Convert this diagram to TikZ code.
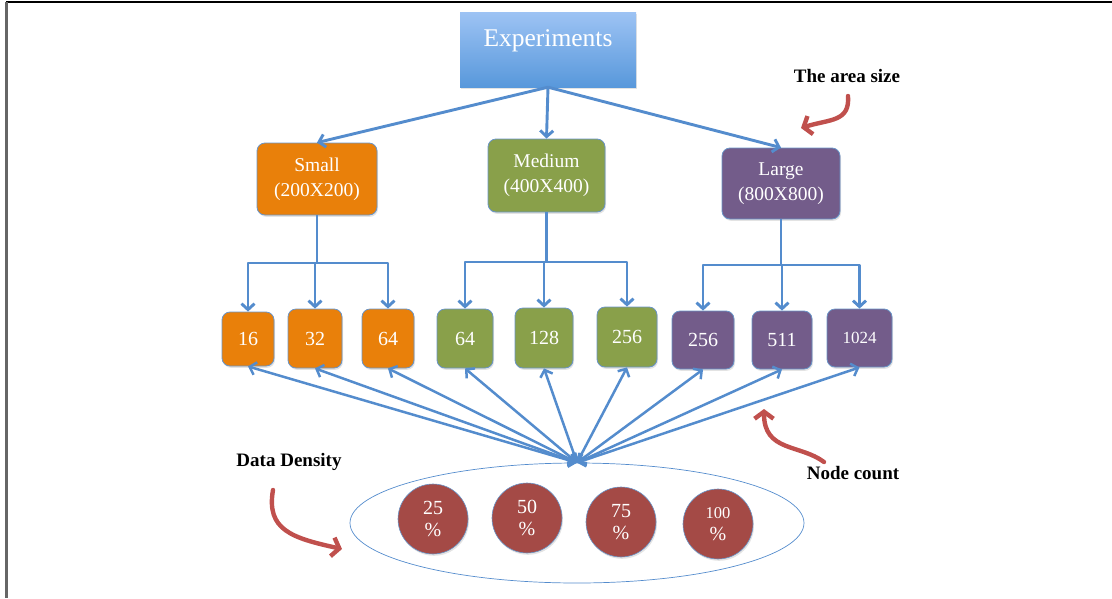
\documentclass[tikz,border=0pt]{standalone}
\usepackage{fontspec}
\setmainfont{Liberation Serif}
\usetikzlibrary{arrows.meta,shadows,shapes.geometric}

\definecolor{linkblue}{RGB}{84,140,205}
\definecolor{boxedge}{RGB}{79,129,189}
\definecolor{smallor}{RGB}{233,128,10}
\definecolor{medgreen}{RGB}{137,160,74}
\definecolor{largepur}{RGB}{115,92,138}
\definecolor{densred}{RGB}{164,74,70}
\definecolor{noteRed}{RGB}{192,80,77}
\definecolor{expTop}{RGB}{157,195,244}
\definecolor{expBot}{RGB}{88,152,219}

\tikzset{
  softshadow/.style={drop shadow={opacity=0.22,shadow xshift=1pt,shadow yshift=-1.8pt}},
  box/.style={draw=boxedge!85, line width=0.8pt, rounded corners=8pt, text=white,
    align=center, inner sep=0pt, softshadow},
  sizebox/.style={box, font=\fontsize{19.5}{25}\selectfont},
  countbox/.style={box, font=\fontsize{20}{24}\selectfont},
  dens/.style={circle, draw=boxedge!85, line width=0.6pt, fill=densred, text=white,
    minimum size=70pt, inner sep=0pt, align=center, softshadow,
    font=\fontsize{20}{22}\selectfont},
  conn/.style={draw=linkblue, line width=2.9pt, line join=round},
  tip/.style={-{Straight Barb[length=6pt,width=13pt]}},
  both/.style={{Straight Barb[length=6pt,width=13pt]}-{Straight Barb[length=6pt,width=13pt]}},
  note/.style={draw=noteRed, line width=4.4pt, line cap=round,
    -{Straight Barb[length=7pt,width=19pt]}},
  notelabel/.style={font=\bfseries\fontsize{19}{22}\selectfont, inner sep=0pt}
}

\begin{document}
\begin{tikzpicture}[x=1pt,y=-1pt]
\useasboundingbox (0,0) rectangle (1112,598);

% page frame
\draw[black, line width=1.5pt] (6,2) -- (1112,2);
\draw[gray!80!black, line width=2.2pt] (6.5,2) -- (6.5,598);

% root
\node[top color=expTop, bottom color=expBot, softshadow, minimum width=176pt,
  minimum height=75pt, inner sep=0pt] (exp) at (548,49.5) {};
\node[text=white, inner sep=0pt, font=\fontsize{25.5}{28}\selectfont]
  (expText) at ([yshift=9pt]exp.center) {Experiments};

% area sizes
\node[sizebox, fill=smallor, minimum width=120pt, minimum height=72pt] (small) at (317,179) {Small\\(200X200)};
\node[sizebox, fill=medgreen, minimum width=117pt, minimum height=73pt] (medium) at (546.5,175.5) {Medium\\(400X400)};
\node[sizebox, fill=largepur, minimum width=118pt, minimum height=71pt] (large) at (781,183.5) {Large\\(800X800)};

% node counts
\node[countbox, fill=smallor, minimum width=52pt, minimum height=54pt] (s16) at (248,339) {16};
\node[countbox, fill=smallor, minimum width=54pt, minimum height=59pt] (s32) at (315,338.5) {32};
\node[countbox, fill=smallor, minimum width=52pt, minimum height=59pt] (s64) at (388,338.5) {64};
\node[countbox, fill=medgreen, minimum width=56pt, minimum height=59pt] (m64) at (465,338.5) {64};
\node[countbox, fill=medgreen, minimum width=58pt, minimum height=60pt] (m128) at (544,338) {128};
\node[countbox, fill=medgreen, minimum width=60pt, minimum height=60pt] (m256) at (627,337) {256};
\node[countbox, fill=largepur, minimum width=62pt, minimum height=58pt] (l256) at (703,340) {256};
\node[countbox, fill=largepur, minimum width=60pt, minimum height=58pt] (l511) at (782,340) {511};
\node[countbox, fill=largepur, minimum width=65pt, minimum height=58pt, font=\fontsize{17}{20}\selectfont] (l1024) at (859.5,338) {1024};

% density group
\node[ellipse, draw=linkblue, line width=0.7pt, minimum width=454pt, minimum height=120pt, inner sep=0pt] (grp) at (577,523) {};
\node[dens] (d25) at (433,519) {25\\\%};
\node[dens] (d50) at (527,518) {50\\\%};
\node[dens] (d75) at (621,522) {75\\\%};
\node[dens] (d100) at (718,524) {{\fontsize{16.5}{22}\selectfont 100}\\\%};

% root to area sizes
\draw[conn, tip] (exp.south) -- (small.north);
\draw[conn, tip] (exp.south) -- (medium.north);
\draw[conn, tip] (exp.south) -- (large.north);

% area sizes to node counts
\coordinate (sj) at (small.south |- 0,263);
\coordinate (mj) at (medium.south |- 0,262);
\coordinate (lj) at (large.south |- 0,265);
\draw[conn] (small.south) -- (sj);
\draw[conn] (medium.south) -- (mj);
\draw[conn] (large.south) -- (lj);
\foreach \c in {s16,s32,s64} \draw[conn, tip] (sj) -| (\c.north);
\foreach \c in {m64,m128,m256} \draw[conn, tip] (mj) -| (\c.north);
\foreach \c in {l256,l511,l1024} \draw[conn, tip] (lj) -| (\c.north);

% density hub to every node count
\foreach \c in {s16,s32,s64,m64,m128,m256,l256,l511,l1024}
  \draw[conn, line width=2.5pt, both] (grp.north) -- (\c.south);

% annotations
\node[notelabel] (areaLbl) at (847,76) {The area size};
\node[notelabel] (densLbl) at (289,462) {Data Density};
\node[notelabel] (countLbl) at (853,473) {Node count};

\coordinate (areaFrom) at (848,96);
\coordinate (areaTo) at (801,128);
\draw[note] (areaFrom) .. controls (850,122) and (830,119) .. (areaTo);

\coordinate (densFrom) at (273,490);
\coordinate (densTo) at (342,549);
\draw[note] (densFrom) .. controls (266,530) and (292,538) .. (densTo);

\coordinate (countFrom) at (824,462);
\coordinate (countTo) at (764,409);
\draw[note] (countFrom) .. controls (800,444) and (764,452) .. (countTo);
\end{tikzpicture}
\end{document}
